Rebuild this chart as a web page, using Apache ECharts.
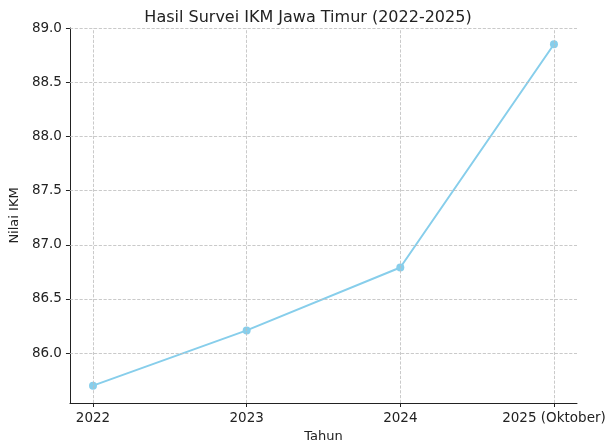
<!DOCTYPE html><html><head><meta charset="utf-8"><script src="https://cdn.jsdelivr.net/npm/echarts@6/dist/echarts.min.js"></script></head><body style="margin:0"><div id="c" style="width:616px;height:448px"></div><script>
const categories=["2022","2023","2024","2025 (Oktober)"];
const values=[85.70,86.21,86.79,88.85];
const yTicks=[86,86.5,87,87.5,88,88.5,89];
const grid={type:'dashed',color:'#bdbdbd',width:0.8};
const ml=[];
categories.forEach((c,i)=>ml.push({xAxis:i}));
yTicks.forEach(v=>ml.push({yAxis:v}));
const ch=echarts.init(document.getElementById('c'));
ch.setOption({animation:false,
title:{text:'Hasil Survei IKM Jawa Timur (2022-2025)',left:'center',top:5,textStyle:{fontFamily:'DejaVu Sans',fontSize:16,fontWeight:'normal',color:'#222'}},
grid:{left:62,right:39,top:28,bottom:45},
xAxis:{type:'value',min:-0.15,max:3.15,name:'Tahun',nameLocation:'middle',nameGap:26,nameTextStyle:{fontFamily:'DejaVu Sans',fontSize:13,color:'#222'},
 axisLine:{onZero:false,lineStyle:{color:'#222'}},axisTick:{customValues:[0,1,2,3],length:4,lineStyle:{color:'#222'}},splitLine:{show:false},
 axisLabel:{customValues:[0,1,2,3],formatter:v=>categories[Math.round(v)],fontFamily:'DejaVu Sans',fontSize:13.5,color:'#222'}},
yAxis:{type:'value',min:85.54,max:89,name:'Nilai IKM',nameLocation:'middle',nameGap:47,nameTextStyle:{fontFamily:'DejaVu Sans',fontSize:13,color:'#222'},
 axisLine:{show:true,onZero:false,lineStyle:{color:'#222'}},axisTick:{show:true,customValues:yTicks,length:4,lineStyle:{color:'#222'}},splitLine:{show:false},
 axisLabel:{customValues:yTicks,formatter:v=>v.toFixed(1),fontFamily:'DejaVu Sans',fontSize:13.5,color:'#222'}},
series:[{type:'line',data:values.map((v,i)=>[i,v]),symbol:'circle',symbolSize:8,lineStyle:{color:'#87CEEB',width:2},itemStyle:{color:'#87CEEB'},
 markLine:{silent:true,symbol:'none',label:{show:false},lineStyle:grid,data:ml},z:3}]});
</script></body></html>
